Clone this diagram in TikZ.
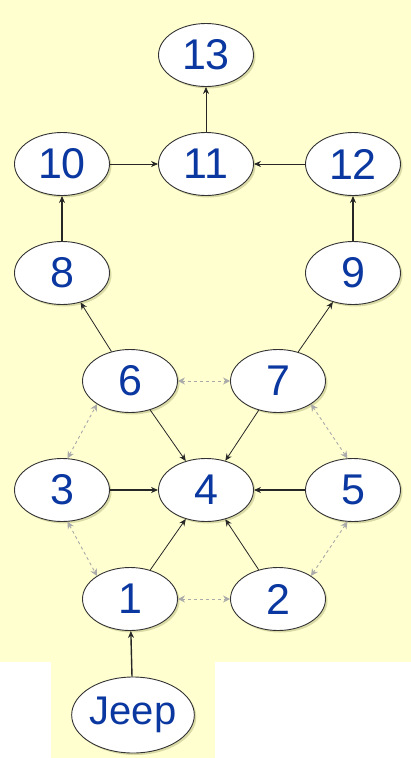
\documentclass[tikz,border=0pt]{standalone}
\usepackage{fontspec}
\setmainfont{Liberation Sans}
\usetikzlibrary{arrows.meta,positioning,shadows,shapes.geometric}
\definecolor{paleyellow}{RGB}{255,255,208}
\definecolor{numblue}{RGB}{10,55,160}
\definecolor{linkgray}{RGB}{170,170,170}
\definecolor{shadeolive}{RGB}{150,150,90}

\begin{document}
\begin{tikzpicture}[
    x=1pt,y=-1pt,
    state/.style={ellipse,draw=black!80,line width=0.9pt,fill=white,minimum width=95pt,minimum height=63pt,inner sep=0pt,
        text=numblue,font=\fontsize{43}{43}\selectfont,
        drop shadow={shadow xshift=2pt,shadow yshift=-2pt,opacity=0.35,fill=shadeolive}},
    link/.style={->,line width=0.8pt,black!85},
    swap/.style={{Stealth[length=7pt,width=7pt]}-{Stealth[length=7pt,width=7pt]},dash pattern=on 3pt off 3pt,line width=0.9pt,linkgray},
    >={Stealth[length=7pt,width=6pt]}
]
\useasboundingbox (0,0) rectangle (411,758);
\fill[paleyellow] (0,0) rectangle (411,662);
\fill[paleyellow] (51,662) rectangle (215,758);

% nodes
\node[state] (n13) at (206,55) {13};
\node[state] (n10) at (62,164) {10};
\node[state] (n11) at (206,164) {11};
\node[state] (n12) at (353,164) {12};
\node[state] (n8) at (62,273) {8};
\node[state] (n9) at (353,273) {9};
\node[state] (n6) at (130,381) {6};
\node[state] (n7) at (278,381) {7};
\node[state] (n3) at (62,490) {3};
\node[state] (n4) at (206,490) {4};
\node[state] (n5) at (353,490) {5};
\node[state] (n1) at (130,599) {1};
\node[state] (n2) at (278,599) {2};
\node[state,minimum width=116pt,minimum height=76pt,font=\fontsize{40}{40}\selectfont] (jeep) at (133,715) {Jeep};

% solid links
\draw[link,line width=1.4pt] (jeep) -- (n1);
\draw[link] (n1) -- (n4);
\draw[link] (n2) -- (n4);
\draw[link,line width=1.1pt] (n3) -- (n4);
\draw[link,line width=1.1pt] (n5) -- (n4);
\draw[link] (n6) -- (n4);
\draw[link] (n7) -- (n4);
\draw[link] (n6) -- (n8);
\draw[link] (n7) -- (n9);
\draw[link,line width=1.4pt] (n8) -- (n10);
\draw[link,line width=1.4pt] (n9) -- (n12);
\draw[link] (n10) -- (n11);
\draw[link] (n12) -- (n11);
\draw[link] (n11) -- (n13);

% dashed swaps
\draw[swap] (n1) -- (n2);
\draw[swap] (n6) -- (n7);
\draw[swap] (n3.80) -- (n6.215);
\draw[swap] (n3.280) -- (n1.145);
\draw[swap] (n5.100) -- (n7.325);
\draw[swap] (n5.260) -- (n2.35);
\end{tikzpicture}
\end{document}
